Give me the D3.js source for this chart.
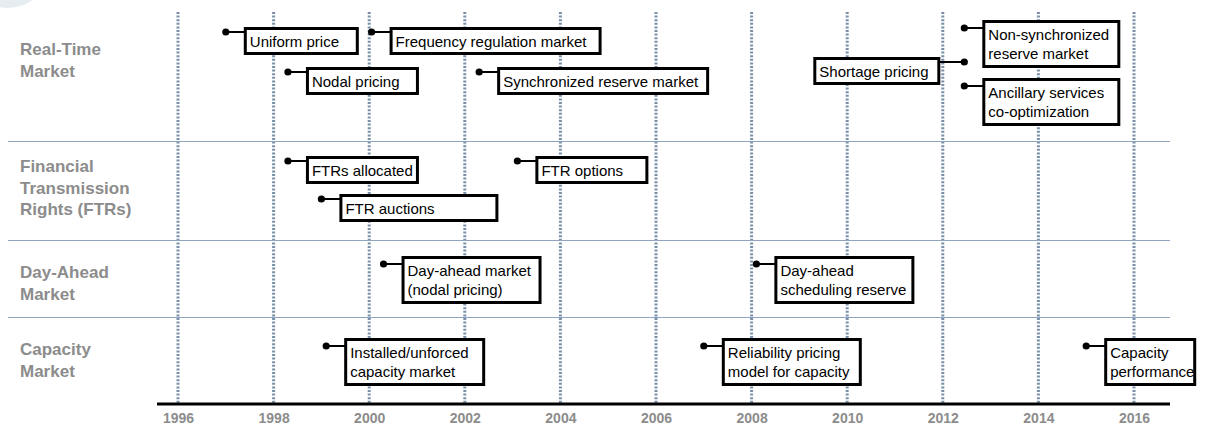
<!DOCTYPE html>
<html>
<head>
<meta charset="utf-8">
<script src="https://cdn.jsdelivr.net/npm/d3@7"></script>
<style>
	body { margin: 0; background: #fff; }
	text { font-family: 'Liberation Sans', Arial, sans-serif; }
</style>
</head>
<body>
<div id="chart"></div>
<script>
// Data
const years = [ 1996, 1998, 2000, 2002, 2004, 2006, 2008, 2010, 2012, 2014, 2016 ];
const rowLabels = [
	[ 'Real-Time', 'Market' ],
	[ 'Financial', 'Transmission', 'Rights (FTRs)' ],
	[ 'Day-Ahead', 'Market' ],
	[ 'Capacity', 'Market' ]
];
const eventNames = [
	[ 'Uniform price' ],
	[ 'Frequency regulation market' ],
	[ 'Nodal pricing' ],
	[ 'Synchronized reserve market' ],
	[ 'Non-synchronized', 'reserve market' ],
	[ 'Shortage pricing' ],
	[ 'Ancillary services', 'co-optimization' ],
	[ 'FTRs allocated' ],
	[ 'FTR auctions' ],
	[ 'FTR options' ],
	[ 'Day-ahead market', '(nodal pricing)' ],
	[ 'Day-ahead', 'scheduling reserve' ],
	[ 'Installed/unforced', 'capacity market' ],
	[ 'Reliability pricing', 'model for capacity' ],
	[ 'Capacity', 'performance' ]
];
const eventRows = [ 0, 0, 0, 0, 0, 0, 0, 1, 1, 1, 2, 2, 3, 3, 3 ];
const eventDates = [ 1997.0, 2000.05, 1998.3, 2002.3, 2012.45, 2012.45, 2012.45, 1998.3, 1999.0, 2003.1, 2000.3, 2008.1, 1999.1, 2007.0, 2015.0 ];

// Label placement (layout only): box top, box width, side of the dot
const labelTops = [ 27, 27, 67, 67, 20, 57, 78, 156, 194, 156, 256, 256, 338, 338, 338 ];
const labelWidths = [ 115, 212, 113, 212, 138, 127, 138, 113, 159, 113, 140, 140, 141, 140, 92 ];
const labelSides = [ 'r', 'r', 'r', 'r', 'r', 'l', 'r', 'r', 'r', 'r', 'r', 'r', 'r', 'r', 'r' ];

let dimensions = {
	width  : 1205,
	height : 428,
	gridTop : 12,
	axisY : 404,
	rowBounds : [ 141, 240, 317 ],
	rowLabelY : [ 55, 172, 278, 355 ]
};

const svg = d3
	.select('#chart')
	.append('svg')
	.attr('width', dimensions.width)
	.attr('height', dimensions.height);

// faint corner decoration
svg.append('circle').attr('cx', 8).attr('cy', -34).attr('r', 42).attr('fill', '#e6edf1');

const x = d3.scaleLinear().domain([ 1996, 2016 ]).range([ 178, 1134 ]);

// dotted year gridlines
svg
	.append('g')
	.selectAll('line')
	.data(years)
	.enter()
	.append('line')
	.attr('x1', (d) => x(d))
	.attr('x2', (d) => x(d))
	.attr('y1', dimensions.gridTop)
	.attr('y2', dimensions.axisY)
	.attr('stroke', '#7890a9')
	.attr('stroke-width', 3)
	.attr('stroke-dasharray', '2,1.6');

// row separators
svg
	.append('g')
	.selectAll('line')
	.data(dimensions.rowBounds)
	.enter()
	.append('line')
	.attr('x1', 8)
	.attr('x2', 1170)
	.attr('y1', (d) => d + 0.5)
	.attr('y2', (d) => d + 0.5)
	.attr('stroke', '#8ea4bf')
	.attr('stroke-width', 1.2);

// row labels
const rowG = svg.append('g');
rowLabels.forEach(function(lines, i) {
	const t = rowG
		.append('text')
		.attr('x', 20)
		.attr('y', dimensions.rowLabelY[i])
		.attr('fill', '#8c8c8c')
		.attr('font-size', '17px')
		.attr('font-weight', 'bold');
	lines.forEach(function(l, j) {
		t.append('tspan').attr('x', 20).attr('dy', j == 0 ? 0 : 21.5).text(l);
	});
});

// axis
const xAxis = svg
	.append('g')
	.attr('transform', 'translate(0,' + dimensions.axisY + ')')
	.call(d3.axisBottom(x).tickValues(years).tickFormat(d3.format('d')).tickSize(0).tickPadding(9));
xAxis.select('.domain').remove();
xAxis
	.append('line')
	.attr('x1', 157)
	.attr('x2', 1170)
	.attr('stroke', '#000')
	.attr('stroke-width', 3);
xAxis
	.selectAll('text')
	.attr('font-family', "'Liberation Sans', Arial, sans-serif")
	.attr('font-size', '14px')
	.attr('font-weight', 'bold')
	.attr('fill', '#8c8c8c');

// events
const events = eventNames.map(function(lines, i) {
	return {
		lines : lines,
		row   : eventRows[i],
		date  : eventDates[i],
		top   : labelTops[i],
		width : labelWidths[i],
		side  : labelSides[i]
	};
});

const ev = svg.append('g').selectAll('g').data(events).enter().append('g');

ev.each(function(d) {
	const g = d3.select(this);
	const h = d.lines.length == 1 ? 28 : 48;
	const dotX = x(d.date);
	const dotY = d.top + (d.lines.length == 1 ? 5 : 8);
	const gap = d.side == 'r' ? 18 : 24;
	const outerLeft = d.side == 'r' ? dotX + gap : dotX - gap - d.width;
	const edge = d.side == 'r' ? outerLeft + 1.5 : outerLeft + d.width - 1.5;

	g
		.append('line')
		.attr('x1', dotX)
		.attr('x2', edge)
		.attr('y1', dotY)
		.attr('y2', dotY)
		.attr('stroke', '#000')
		.attr('stroke-width', 2);
	g.append('circle').attr('cx', dotX).attr('cy', dotY).attr('r', 3.6).attr('fill', '#000');

	g
		.append('rect')
		.attr('x', outerLeft + 1.5)
		.attr('y', d.top + 1.5)
		.attr('width', d.width - 3)
		.attr('height', h - 3)
		.attr('fill', '#fff')
		.attr('stroke', '#000')
		.attr('stroke-width', 3);

	const t = g
		.append('text')
		.attr('x', outerLeft + 6)
		.attr('y', d.top + 20)
		.attr('font-size', '15px')
		.attr('fill', '#000');
	d.lines.forEach(function(l, j) {
		t.append('tspan').attr('x', outerLeft + 6).attr('dy', j == 0 ? 0 : 19).text(l);
	});
});
</script>
</body>
</html>
